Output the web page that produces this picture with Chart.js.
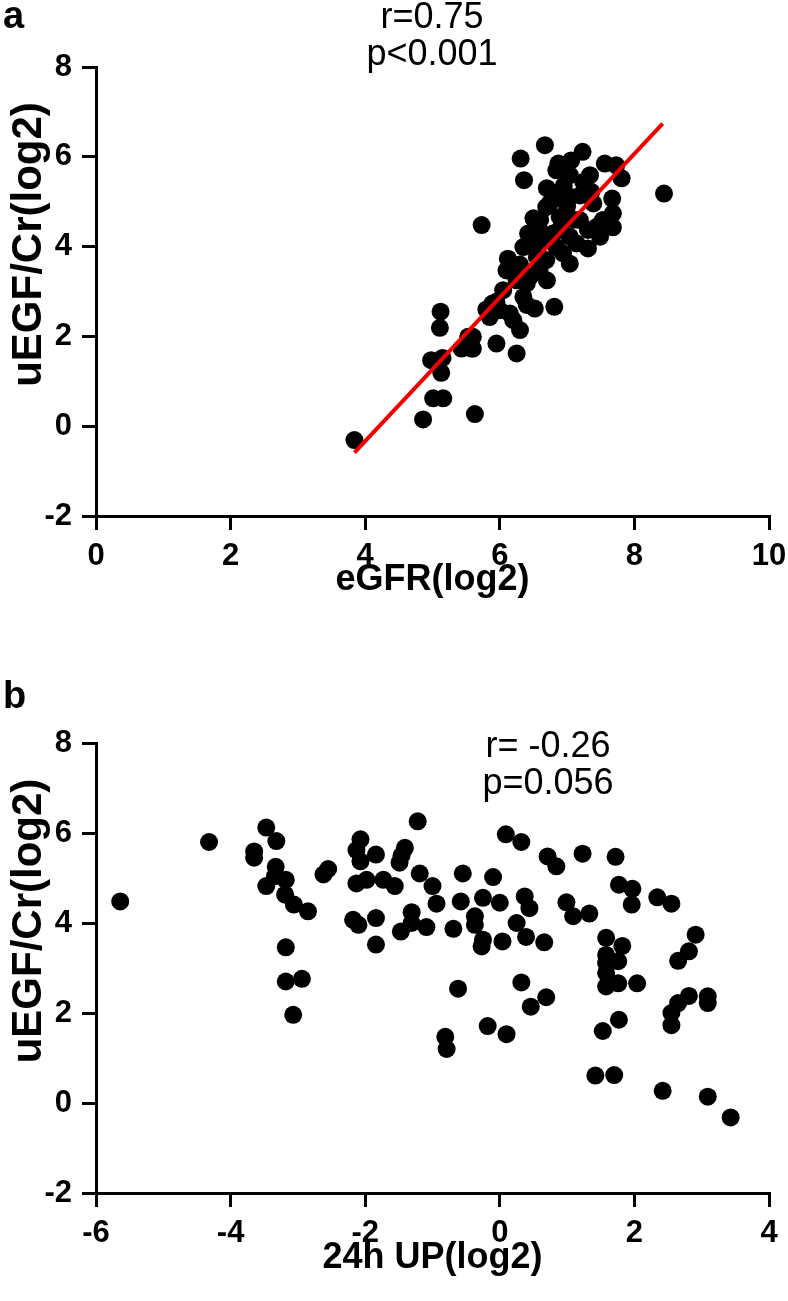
<!DOCTYPE html>
<html>
<head>
<meta charset="utf-8">
<script src="https://cdn.jsdelivr.net/npm/chart.js@4.4.0/dist/chart.umd.min.js"></script>
<style>
  body { margin: 0; background: #fff; }
  #wrap { position: relative; width: 788px; height: 1301px; }
  canvas { position: absolute; left: 0; }
</style>
</head>
<body>
<div id="wrap">
  <canvas id="chartA" width="788" height="640" style="top:0"></canvas>
  <canvas id="chartB" width="788" height="661" style="top:640px"></canvas>
</div>
<script>
// panel a: eGFR vs uEGF/Cr (both log2)
const egfrLog2 = [3.84, 4.86, 5.63, 5.01, 5.16, 4.98, 5.15, 5.13, 5.12, 5.11, 5.43, 5.58, 5.53, 5.60, 5.60, 5.95,
  6.25, 6.30, 6.20, 5.85, 5.89, 5.95, 6.05, 6.00, 6.15, 6.35, 6.52, 6.81, 6.40, 6.25, 6.45, 6.70, 6.10, 6.20,
  6.12, 6.55, 6.59, 6.69, 6.35, 6.42, 6.50, 6.59, 6.74, 6.84, 6.94, 7.04, 7.31, 7.14, 7.04, 7.49, 7.31, 7.19,
  7.44, 7.53, 7.68, 7.68, 7.67, 7.39, 6.89, 6.74, 6.69, 6.84, 7.04, 7.19, 7.36, 7.24, 7.34, 7.04, 6.84, 6.87,
  7.06, 7.23, 6.67, 6.31, 6.36, 5.73, 7.56, 7.73, 7.81, 8.44, 6.60, 6.90, 7.00, 6.95, 6.70, 6.55, 6.30, 6.80,
  7.10, 6.40, 5.80];
const uegfA = [-0.31, 0.15, 0.27, 0.62, 0.62, 1.47, 1.52, 1.19, 2.55, 2.19, 1.73, 1.73, 1.99, 1.99, 1.73, 1.84,
  1.62, 2.14, 2.36, 2.43, 2.73, 2.77, 3.03, 2.58, 2.51, 2.88, 2.62, 2.66, 3.18, 3.25, 3.33, 3.25, 3.47, 3.55,
  3.73, 3.77, 3.47, 3.70, 3.99, 4.29, 4.63, 4.37, 4.14, 3.99, 3.85, 3.62, 3.96, 4.07, 4.22, 4.22, 4.37, 4.59,
  4.44, 4.59, 4.43, 4.74, 5.07, 4.96, 4.66, 4.96, 4.88, 5.11, 5.11, 5.14, 5.22, 5.44, 5.59, 5.59, 5.70, 5.85,
  5.92, 6.11, 6.26, 5.96, 5.48, 4.48, 5.85, 5.81, 5.52, 5.18, 4.60, 4.40, 4.90, 5.35, 5.30, 4.10, 3.60, 4.30,
  4.60, 2.70, 2.60];
const fitX = [3.84, 8.42];
const fitY = [-0.59, 6.74];
const statsA = ['r=0.75', 'p<0.001'];

// panel b: 24h urine protein vs uEGF/Cr (both log2)
const upLog2 = [-5.64, -4.32, -3.47, -3.32, -3.65, -3.65, -3.33, -3.34, -3.18, -3.47, -3.19, -3.06, -2.85, -3.18,
  -3.18, -2.94, -3.07, -2.62, -2.55, -1.22, -2.07, -2.13, -2.07, -1.84, -1.41, -1.46, -1.49, -1.19, -2.13, -1.98,
  -1.73, -1.56, -1.00, -0.94, -2.18, -2.10, -1.84, -1.84, -1.31, -1.47, -1.31, -1.09, 0.09, 0.32, 0.71, 0.84,
  1.23, 1.72, -0.55, -0.10, -0.58, -0.25, 0.00, -0.37, -0.37, -0.69, -0.25, -0.27, 0.04, 0.37, 0.44, 0.25,
  0.39, 0.66, 0.99, 1.09, 1.33, 1.77, 1.97, 1.96, 2.34, 2.55, 1.58, 1.82, 1.58, 1.76, 1.58, 1.58, 1.58, 1.76,
  2.04, 2.91, 2.81, 2.65, -0.62, 0.32, 0.69, 0.46, -0.18, 0.10, -0.81, -0.79, 2.81, 3.09, 3.09, 2.65, 2.55,
  2.55, 1.77, 1.53, 1.42, 1.70, 2.42, 3.09, 3.43];
const uegfB = [4.48, 5.80, 6.12, 5.82, 5.59, 5.45, 5.25, 5.04, 4.96, 4.82, 4.63, 4.41, 4.26, 3.46,
  2.70, 2.76, 1.96, 5.08, 5.20, 6.26, 5.86, 5.62, 5.37, 5.52, 5.67, 5.50, 5.34, 5.10, 4.88, 4.96,
  4.96, 4.82, 4.82, 4.43, 4.07, 3.96, 4.11, 3.52, 4.24, 3.81, 4.00, 3.91, 5.97, 5.80, 5.48, 5.26,
  5.54, 5.47, 5.10, 5.02, 4.48, 4.56, 4.45, 4.15, 3.96, 3.87, 3.63, 3.48, 3.59, 4.59, 4.33, 4.00,
  3.69, 3.57, 4.46, 4.15, 4.21, 4.85, 4.76, 4.41, 4.57, 4.43, 3.67, 3.49, 3.29, 3.15, 3.11, 2.89, 2.59, 2.66,
  2.66, 3.74, 3.37, 3.16, 2.54, 2.68, 2.35, 2.14, 1.71, 1.53, 1.47, 1.20, 2.38, 2.37, 2.22, 2.22, 2.00,
  1.73, 1.85, 1.60, 0.61, 0.62, 0.27, 0.14, -0.32];
const statsB = ['r= -0.26', 'p=0.056'];

const yRange = [-2, 8];
const yTitle = 'uEGF/Cr(log2)';
const FONT = '"Liberation Sans", Arial, Helvetica, sans-serif';

// panel letter, r/p annotation and the y title (sits a bit above the axis middle)
const panelText = {
  id: 'panelText',
  afterDraw(chart, args, opts) {
    const ctx = chart.ctx;
    const area = chart.chartArea;
    ctx.save();
    ctx.fillStyle = '#000';
    ctx.textAlign = 'left';
    ctx.textBaseline = 'alphabetic';
    ctx.font = 'bold 38px ' + FONT;
    ctx.fillText(opts.letter, 3, opts.letterY);

    ctx.textAlign = 'center';
    ctx.textBaseline = 'middle';
    ctx.font = '36px ' + FONT;
    opts.lines.forEach((t, i) => ctx.fillText(t, opts.x, opts.y + i * 37));

    ctx.font = 'bold 42px ' + FONT;
    ctx.translate(29, (area.top + area.bottom) / 2 - 47);
    ctx.rotate(-Math.PI / 2);
    ctx.fillText(yTitle, 0, 0);
    ctx.restore();
  }
};

function axis(min, max, extra) {
  return Object.assign({
    type: 'linear',
    min: min,
    max: max,
    ticks: { stepSize: 2, color: '#000', font: { family: FONT, size: 31, weight: 'bold' } },
    grid: { drawOnChartArea: false, drawTicks: true, tickLength: 14, color: '#000', lineWidth: 3 },
    border: { display: true, color: '#000', width: 3 }
  }, extra);
}

function scatterChart(id, xs, ys, xMin, xMax, xTitle, layout, text, extraSets) {
  const points = xs.map((x, i) => ({ x: x, y: ys[i] }));
  const datasets = (extraSets || []).concat([{
    type: 'scatter',
    data: points,
    backgroundColor: '#000',
    borderWidth: 0,
    pointRadius: 9,
    pointHoverRadius: 9,
    order: 1
  }]);
  const xAxis = axis(xMin, xMax, {
    position: 'bottom',
    title: {
      display: true, text: xTitle, color: '#000',
      font: { family: FONT, size: 36, weight: 'bold' },
      padding: { top: 0, bottom: layout.titlePad }
    },
    afterFit: s => { s.height = layout.xHeight; s.paddingLeft = 0; s.paddingRight = 0; }
  });
  xAxis.ticks.padding = 8;
  const yAxis = axis(yRange[0], yRange[1], {
    position: 'left',
    afterFit: s => { s.width = 96; s.paddingTop = 0; s.paddingBottom = 0; }
  });
  yAxis.ticks.padding = 10;

  return new Chart(document.getElementById(id), {
    type: 'scatter',
    data: { datasets: datasets },
    options: {
      responsive: false,
      animation: false,
      layout: { padding: { top: layout.top, right: 19, left: 0, bottom: 0 } },
      plugins: { legend: { display: false }, tooltip: { enabled: false }, panelText: text },
      scales: { x: xAxis, y: yAxis }
    },
    plugins: [panelText]
  });
}

scatterChart('chartA', egfrLog2, uegfA, 0, 10, 'eGFR(log2)',
  { top: 67, xHeight: 124, titlePad: 38 },
  { letter: 'a', letterY: 28, lines: statsA, x: 432, y: 18 },
  [{
    type: 'line',
    data: fitX.map((x, i) => ({ x: x, y: fitY[i] })),
    borderColor: '#f20000',
    borderWidth: 4,
    pointRadius: 0,
    fill: false,
    order: 0
  }]);

scatterChart('chartB', upLog2, uegfB, -6, 4, '24h UP(log2)',
  { top: 103, xHeight: 108, titlePad: 21 },
  { letter: 'b', letterY: 68, lines: statsB, x: 548, y: 107 });
</script>
</body>
</html>
